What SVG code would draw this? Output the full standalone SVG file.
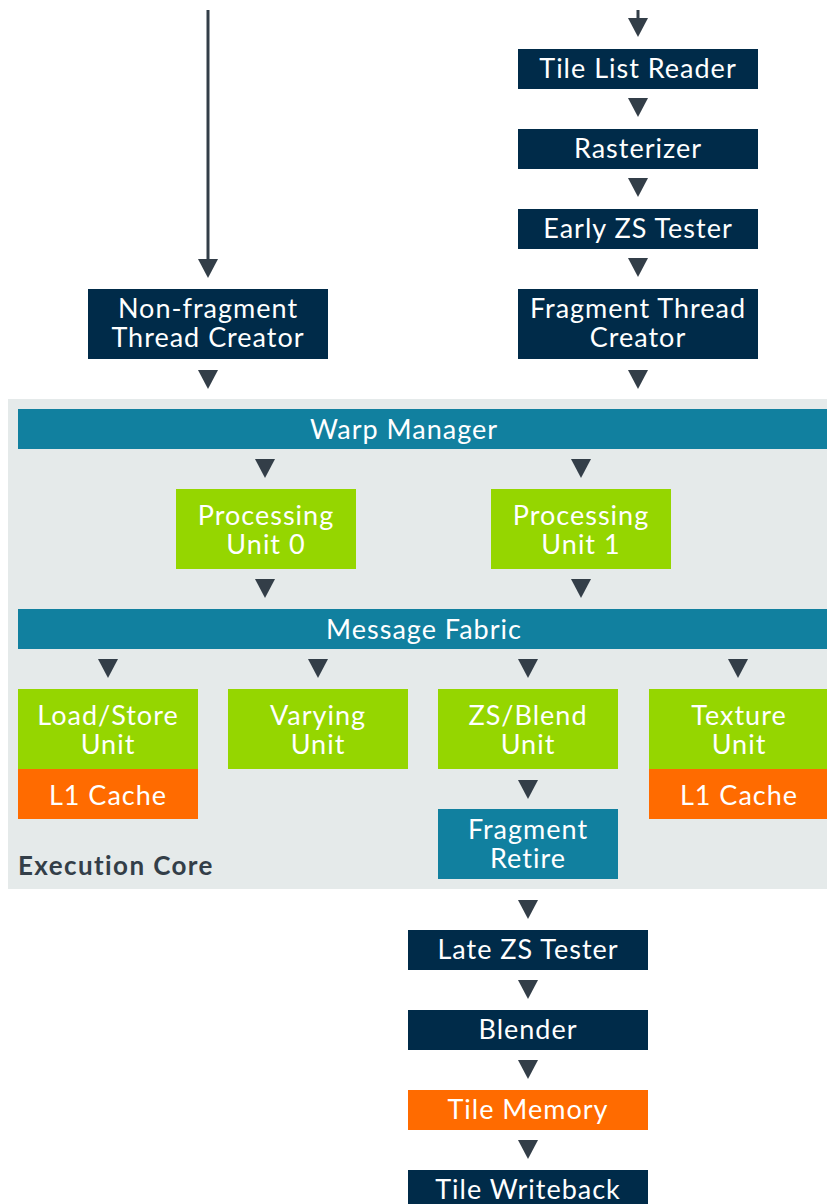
<svg xmlns="http://www.w3.org/2000/svg" width="827" height="1204" viewBox="0 0 827 1204">
<defs>
<style>
.navy{fill:#002b49}
.teal{fill:#11809f}
.green{fill:#95d600}
.orange{fill:#ff6b00}
.bg{fill:#e5eaea}
.t{font-family:Lato,"Open Sans","Liberation Sans",sans-serif;font-size:27px;letter-spacing:1px;fill:#ffffff;text-anchor:middle}
.lbl{font-family:Lato,"Open Sans","Liberation Sans",sans-serif;font-size:26px;letter-spacing:1.4px;font-weight:bold;fill:#333e48}
.ln{stroke:#333e48;stroke-width:3;fill:none}
.ah{fill:#333e48}
</style>
<path id="tri" d="M-10,0 L10,0 L0,19 Z"/>
</defs>
<rect width="827" height="1204" fill="#ffffff"/>

<g id="execution-core">
<rect class="bg" x="8" y="399" width="819" height="490"/>
<text class="lbl" x="18" y="875">Execution Core</text>
</g>

<g id="connectors">
<line class="ln" x1="208" y1="10" x2="208" y2="262"/>
<path class="ah" d="M198,259 L218,259 L208,278 Z"/>
<line class="ln" x1="638" y1="10" x2="638" y2="21"/>
<path class="ah" d="M628,18 L648,18 L638,37 Z"/>
<use href="#tri" class="ah" x="638" y="98"/>
<use href="#tri" class="ah" x="638" y="178"/>
<use href="#tri" class="ah" x="638" y="258"/>
<use href="#tri" class="ah" x="638" y="370"/>
<use href="#tri" class="ah" x="208" y="370"/>
<use href="#tri" class="ah" x="265" y="459"/>
<use href="#tri" class="ah" x="581" y="459"/>
<use href="#tri" class="ah" x="265" y="579"/>
<use href="#tri" class="ah" x="581" y="579"/>
<use href="#tri" class="ah" x="108" y="659"/>
<use href="#tri" class="ah" x="318" y="659"/>
<use href="#tri" class="ah" x="528" y="659"/>
<use href="#tri" class="ah" x="738" y="659"/>
<use href="#tri" class="ah" x="528" y="780"/>
<use href="#tri" class="ah" x="528" y="900"/>
<use href="#tri" class="ah" x="528" y="980"/>
<use href="#tri" class="ah" x="528" y="1060"/>
<use href="#tri" class="ah" x="528" y="1140"/>
</g>

<g id="tile-list-reader">
<rect class="navy" x="518" y="49" width="240" height="40"/>
<text class="t" x="638" y="78">Tile List Reader</text>
</g>
<g id="rasterizer">
<rect class="navy" x="518" y="129" width="240" height="40"/>
<text class="t" x="638" y="158">Rasterizer</text>
</g>
<g id="early-zs-tester">
<rect class="navy" x="518" y="209" width="240" height="40"/>
<text class="t" x="638" y="238">Early ZS Tester</text>
</g>
<g id="fragment-thread-creator">
<rect class="navy" x="518" y="289" width="240" height="70"/>
<text class="t" x="638" y="318">Fragment Thread</text>
<text class="t" x="638" y="347">Creator</text>
</g>
<g id="non-fragment-thread-creator">
<rect class="navy" x="88" y="289" width="240" height="70"/>
<text class="t" x="208" y="318">Non-fragment</text>
<text class="t" x="208" y="347">Thread Creator</text>
</g>

<g id="warp-manager">
<rect class="teal" x="18" y="409" width="809" height="40"/>
<text class="t" x="404" y="439">Warp Manager</text>
</g>
<g id="processing-unit-0">
<rect class="green" x="176" y="489" width="180" height="80"/>
<text class="t" x="266" y="525">Processing</text>
<text class="t" x="266" y="554">Unit 0</text>
</g>
<g id="processing-unit-1">
<rect class="green" x="491" y="489" width="180" height="80"/>
<text class="t" x="581" y="525">Processing</text>
<text class="t" x="581" y="554">Unit 1</text>
</g>
<g id="message-fabric">
<rect class="teal" x="18" y="609" width="809" height="40"/>
<text class="t" x="424" y="639">Message Fabric</text>
</g>
<g id="load-store-unit">
<rect class="green" x="18" y="689" width="180" height="80"/>
<text class="t" x="108" y="725">Load/Store</text>
<text class="t" x="108" y="754">Unit</text>
<rect class="orange" x="18" y="769" width="180" height="50"/>
<text class="t" x="108" y="805">L1 Cache</text>
</g>
<g id="varying-unit">
<rect class="green" x="228" y="689" width="180" height="80"/>
<text class="t" x="318" y="725">Varying</text>
<text class="t" x="318" y="754">Unit</text>
</g>
<g id="zs-blend-unit">
<rect class="green" x="438" y="689" width="180" height="80"/>
<text class="t" x="528" y="725">ZS/Blend</text>
<text class="t" x="528" y="754">Unit</text>
</g>
<g id="texture-unit">
<rect class="green" x="649" y="689" width="180" height="80"/>
<text class="t" x="739" y="725">Texture</text>
<text class="t" x="739" y="754">Unit</text>
<rect class="orange" x="649" y="769" width="180" height="50"/>
<text class="t" x="739" y="805">L1 Cache</text>
</g>
<g id="fragment-retire">
<rect class="teal" x="438" y="809" width="180" height="70"/>
<text class="t" x="528" y="839">Fragment</text>
<text class="t" x="528" y="868">Retire</text>
</g>

<g id="late-zs-tester">
<rect class="navy" x="408" y="930" width="240" height="40"/>
<text class="t" x="528" y="959">Late ZS Tester</text>
</g>
<g id="blender">
<rect class="navy" x="408" y="1010" width="240" height="40"/>
<text class="t" x="528" y="1039">Blender</text>
</g>
<g id="tile-memory">
<rect class="orange" x="408" y="1090" width="240" height="40"/>
<text class="t" x="528" y="1119">Tile Memory</text>
</g>
<g id="tile-writeback">
<rect class="navy" x="408" y="1170" width="240" height="40"/>
<text class="t" x="528" y="1199">Tile Writeback</text>
</g>
</svg>
